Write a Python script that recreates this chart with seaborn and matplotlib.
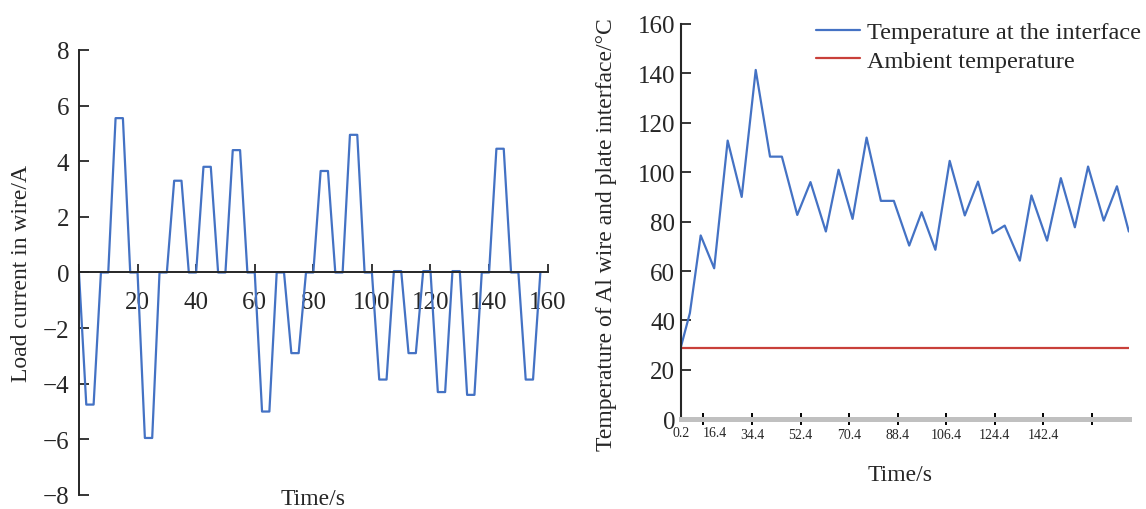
import matplotlib
matplotlib.use("Agg")
import matplotlib.pyplot as plt
import seaborn as sns
import pandas as pd

# left panel: load current, sampled every 2.5 s
load_time = [
    0, 2.5, 5, 7.5, 10, 12.5, 15, 17.5, 20, 22.5, 25, 27.5, 30, 32.5, 35, 37.5,
    40, 42.5, 45, 47.5, 50, 52.5, 55, 57.5, 60, 62.5, 65, 67.5, 70, 72.5, 75, 77.5,
    80, 82.5, 85, 87.5, 90, 92.5, 95, 97.5, 100, 102.5, 105, 107.5, 110, 112.5, 115, 117.5,
    120, 122.5, 125, 127.5, 130, 132.5, 135, 137.5, 140, 142.5, 145, 147.5, 150, 152.5, 155, 157.5,
]
load_current = [
    0, -4.75, -4.75, 0, 0, 5.55, 5.55, 0, 0, -5.95, -5.95, 0, 0, 3.3, 3.3, 0,
    0, 3.8, 3.8, 0, 0, 4.4, 4.4, 0, 0, -5.0, -5.0, 0, 0, -2.9, -2.9, 0,
    0, 3.65, 3.65, 0, 0, 4.95, 4.95, 0, 0, -3.85, -3.85, 0.05, 0.05, -2.9, -2.9, 0.05,
    0.05, -4.3, -4.3, 0.05, 0.05, -4.4, -4.4, 0, 0, 4.45, 4.45, 0, 0, -3.85, -3.85, 0,
]

# right panel: interface temperature
interface_time = [
    0.2, 3.6, 7.6, 12.6, 17.6, 22.8, 28.0, 33.3, 37.7, 43.4, 48.3, 54.0, 58.7, 63.9, 69.1, 74.4, 79.2,
    84.9, 89.5, 94.6, 99.9, 105.5, 110.4, 115.8, 120.3, 125.9, 130.2, 136.0, 141.1, 146.3, 151.2,
    157.0, 161.9, 166.3,
]
interface_temp = [
    29, 43, 74.4, 61.1, 112.8, 90, 141.4, 106.3, 106.3, 82.7, 96, 76, 101, 81.1, 114, 88.4, 88.4,
    70.3, 83.8, 68.6, 104.6, 82.5, 96.2, 75.3, 78.4, 64.2, 90.6, 72.3, 97.6, 77.7, 102.3,
    80.4, 94.3, 76,
]
ambient_time = [0.2, 166.3]
ambient_temp = [29, 29]

tick_marks = [8.6, 26.6, 44.6, 62.6, 80.6, 98.6, 116.6, 134.6, 152.6]
tick_texts = ["", "34.4", "52.4", "70.4", "88.4", "106.4", "124.4", "142.4", ""]
first_ticks = [0.2, 12.9]
first_texts = ["0.2", "16.4"]

sns.set_style("ticks")
plt.rcParams["font.family"] = ["Liberation Serif", "DejaVu Serif"]
plt.rcParams["axes.linewidth"] = 1.4

blue = "#4472c4"
red = "#c9403a"

fig = plt.figure(figsize=(11.46, 5.10), dpi=100)
ax1 = fig.add_axes([0.0689, 0.0275, 0.409, 0.8725])
ax2 = fig.add_axes([0.594, 0.176, 0.391, 0.775])

# ---- left: load current
df_load = pd.DataFrame({"t": load_time, "i": load_current})
sns.lineplot(data=df_load, x="t", y="i", ax=ax1, color=blue, linewidth=1.6)
ax1.set_xlim(0, 160)
ax1.set_ylim(-8, 8)
ax1.spines["bottom"].set_position(("data", 0))
ax1.spines["top"].set_visible(False)
ax1.spines["right"].set_visible(False)
ax1.set_xticks(range(0, 161, 20))
ax1.set_xticklabels([""] + [str(v) for v in range(20, 161, 20)])
ax1.set_yticks(range(-8, 9, 2))
ax1.tick_params(axis="x", direction="in", length=6, width=1.3, pad=13, labelsize=18)
ax1.tick_params(axis="y", direction="in", length=7, width=1.3, pad=7, labelsize=18)
ax1.set_xlabel("Time/s", fontsize=17)
ax1.xaxis.set_label_coords(0.5, 0.015)
ax1.set_ylabel("Load current in wire/A", fontsize=17)
ax1.yaxis.set_label_coords(-0.1, 0.5)

# ---- right: temperatures
df_int = pd.DataFrame({"t": interface_time, "T": interface_temp})
df_amb = pd.DataFrame({"t": ambient_time, "T": ambient_temp})
sns.lineplot(data=df_int, x="t", y="T", ax=ax2, color=blue, linewidth=1.6,
             label="Temperature at the interface")
sns.lineplot(data=df_amb, x="t", y="T", ax=ax2, color=red, linewidth=1.6,
             label="Ambient temperature")
ax2.set_xlim(0.2, 166.3)
ax2.set_ylim(0, 160)
ax2.spines["top"].set_visible(False)
ax2.spines["right"].set_visible(False)
ax2.spines["bottom"].set_color("#c0c0c0")
ax2.spines["bottom"].set_linewidth(3.6)
ax2.spines["left"].set_linewidth(1.5)
ax2.set_yticks(range(0, 161, 20))
ax2.tick_params(axis="y", direction="in", length=7, width=1.3, pad=4, labelsize=18)
ax2.set_xticks(tick_marks)
ax2.set_xticklabels(tick_texts)
ax2.set_xticks(first_ticks, minor=True)
ax2.set_xticklabels(first_texts, minor=True)
ax2.tick_params(axis="x", which="major", direction="inout", length=9, width=1.4,
                color="black", pad=2, labelsize=10)
ax2.tick_params(axis="x", which="minor", length=0, pad=5.2, labelsize=10)
ax2.set_xlabel("Time/s", fontsize=17)
ax2.xaxis.set_label_coords(0.489, -0.112)
ax2.set_ylabel("Temperature of Al wire and plate interface/°C", fontsize=17)
ax2.yaxis.set_label_coords(-0.142, 0.469)

ax2.legend(loc="upper right", bbox_to_anchor=(1141 / 1146, 1 - 22 / 510),
           bbox_transform=fig.transFigure, frameon=False, fontsize=17.5,
           handlelength=1.8, handletextpad=0.3, labelspacing=0.27,
           borderaxespad=0, borderpad=0)

plt.savefig("out.png", dpi=100)
plt.close()
